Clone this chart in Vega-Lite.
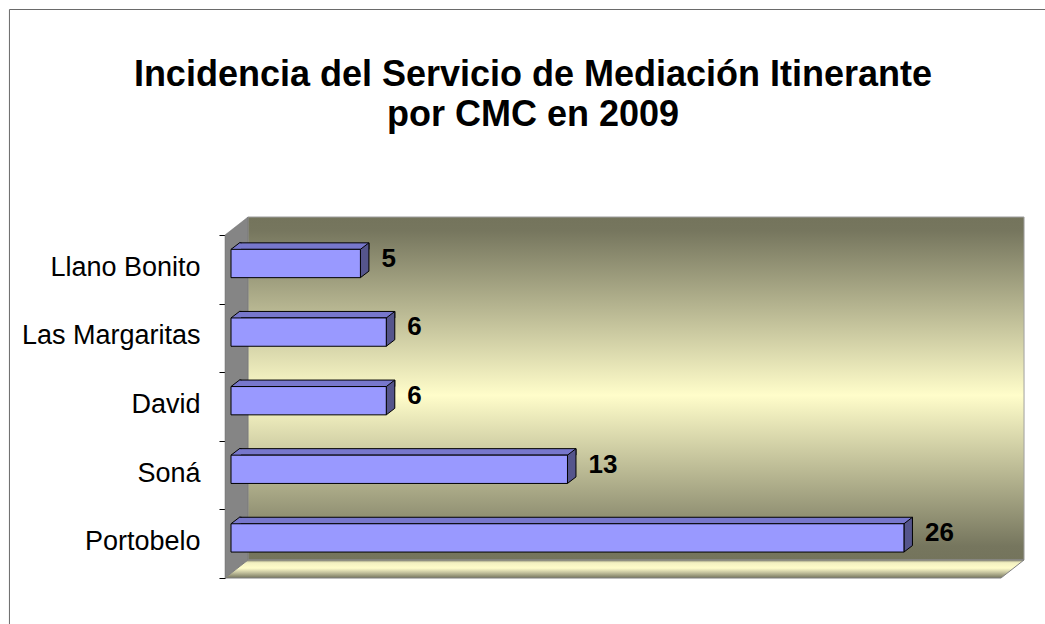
{
  "$schema": "https://vega.github.io/schema/vega-lite/v6.json",
  "width": 770,
  "height": 343,
  "autosize": {"type": "none"},
  "padding": {"left": 231, "top": 235, "right": 44, "bottom": 46},
  "background": "white",
  "config": {"view": {"stroke": null}, "font": "Liberation Sans"},
  "title": {
    "text": ["Incidencia del Servicio de Mediación Itinerante", "por CMC en 2009"],
    "fontSize": 36,
    "fontWeight": "bold",
    "font": "Liberation Sans",
    "color": "black",
    "lineHeight": 40,
    "anchor": "middle",
    "dx": -83,
    "offset": -125
  },
  "data": {"values": [
    {"cmc": "Llano Bonito", "n": 5},
    {"cmc": "Las Margaritas", "n": 6},
    {"cmc": "David", "n": 6},
    {"cmc": "Soná", "n": 13},
    {"cmc": "Portobelo", "n": 26}
  ]},
  "resolve": {"scale": {"y": "independent"}},
  "layer": [
    {
      "data": {"values": [{}]},
      "layer": [
        {
          "mark": {"type": "rect", "stroke": "#6A6A6A", "strokeWidth": 1, "fill": "white", "fillOpacity": 0},
          "encoding": {
            "x": {"datum": -8.56, "type": "quantitative", "scale": {"domain": [0, 29.75], "nice": false, "zero": false}, "axis": null},
            "x2": {"datum": 45},
            "y": {"datum": 1.6574, "type": "quantitative", "scale": {"domain": [0, 1], "nice": false, "zero": false}, "axis": null},
            "y2": {"datum": -2}
          }
        },
        {
          "mark": {"type": "rect", "stroke": "#A0A0A0", "strokeWidth": 1,
            "fill": {"gradient": "linear", "x1": 0, "y1": 0, "x2": 0, "y2": 1,
              "stops": [
                {"offset": 0, "color": "#74745C"},
                {"offset": 0.04, "color": "#76765E"},
                {"offset": 0.52, "color": "#FFFDCA"},
                {"offset": 0.96, "color": "#76765E"},
                {"offset": 1, "color": "#74745C"}
              ]}},
          "encoding": {
            "x": {"datum": 0.657, "type": "quantitative", "scale": {"domain": [0, 29.75], "nice": false, "zero": false}, "axis": null},
            "x2": {"datum": 30.64},
            "y": {"datum": 0.0525, "type": "quantitative", "scale": {"domain": [0, 1], "nice": false, "zero": false}, "axis": null},
            "y2": {"datum": 1.0525}
          }
        },
        {
          "mark": {"type": "point", "filled": true, "opacity": 1, "fill": "#858585", "stroke": "#6E6E6E", "strokeWidth": 0.5,
            "shape": "M0,0L0,-0.9501L0.0637,-1L0.0637,-0.0499Z", "size": 521284},
          "encoding": {
            "x": {"datum": -0.232, "type": "quantitative", "scale": {"domain": [0, 29.75], "nice": false, "zero": false}, "axis": null},
            "y": {"datum": 0, "type": "quantitative", "scale": {"domain": [0, 1], "nice": false, "zero": false}, "axis": null}
          }
        },
        {
          "mark": {"type": "point", "filled": true, "opacity": 1, "stroke": "#808080", "strokeWidth": 1,
            "fill": {"gradient": "linear", "x1": 0, "y1": 0, "x2": 0, "y2": 1,
              "stops": [
                {"offset": 0, "color": "#8C8C76"},
                {"offset": 0.15, "color": "#F2F0C0"},
                {"offset": 0.45, "color": "#FFFDCA"},
                {"offset": 0.7, "color": "#C4C29E"},
                {"offset": 1, "color": "#76765E"}
              ]},
            "shape": "M0,0L0.02879,-0.02253L1,-0.02253L0.97121,0Z", "size": 2553604},
          "encoding": {
            "x": {"datum": -0.232, "type": "quantitative", "scale": {"domain": [0, 29.75], "nice": false, "zero": false}, "axis": null},
            "y": {"datum": 0, "type": "quantitative", "scale": {"domain": [0, 1], "nice": false, "zero": false}, "axis": null}
          }
        }
      ]
    },
    {
      "layer": [
        {
          "mark": {"type": "bar", "height": 6.5, "yOffset": -23.2, "xOffset": 8.5, "x2Offset": 8.5, "fill": "#7777CC", "stroke": "black", "strokeWidth": 1},
          "encoding": {
            "x": {"field": "n", "type": "quantitative", "scale": {"domain": [0, 29.75], "nice": false, "zero": false}, "axis": null},
            "x2": {"datum": 0},
            "y": {"field": "cmc", "type": "nominal", "scale": {"type": "band", "domain": ["Llano Bonito", "Las Margaritas", "David", "Soná", "Portobelo"], "paddingInner": 0, "paddingOuter": 0},
              "axis": {"title": null, "orient": "left", "offset": 6, "domainColor": "black", "domainWidth": 1, "tickBand": "extent", "tickSize": 6, "tickColor": "black", "tickWidth": 1, "labelFont": "Liberation Sans", "labelFontSize": 27, "labelColor": "black", "labelPadding": 19, "labelOffset": -2, "grid": false}}
          }
        },
        {
          "mark": {"type": "point", "filled": true, "opacity": 1, "fill": "#7777CC", "strokeWidth": 0, "yOffset": -5.8,
            "shape": "M0,-0.8203L0.4928,-1.1971L0.5797,-1.1971L0.5797,-0.8203Z", "size": 1190.25},
          "encoding": {
            "x": {"datum": 0, "type": "quantitative", "scale": {"domain": [0, 29.75], "nice": false, "zero": false}, "axis": null},
            "y": {"field": "cmc", "type": "nominal", "scale": {"type": "band", "domain": ["Llano Bonito", "Las Margaritas", "David", "Soná", "Portobelo"], "paddingInner": 0, "paddingOuter": 0}}
          }
        },
        {
          "mark": {"type": "point", "filled": false, "opacity": 1, "color": "black", "strokeWidth": 1, "yOffset": -5.8,
            "shape": "M0,-0.8203L0.4928,-1.1971L0.6,-1.1971", "size": 1190.25},
          "encoding": {
            "x": {"datum": 0, "type": "quantitative", "scale": {"domain": [0, 29.75], "nice": false, "zero": false}, "axis": null},
            "y": {"field": "cmc", "type": "nominal", "scale": {"type": "band", "domain": ["Llano Bonito", "Las Margaritas", "David", "Soná", "Portobelo"], "paddingInner": 0, "paddingOuter": 0}}
          }
        },
        {
          "mark": {"type": "point", "filled": true, "opacity": 1, "fill": "#55558C", "stroke": "black", "strokeWidth": 1, "yOffset": -5.8,
            "shape": "M0,-0.8203L0.4928,-1.1971L0.4928,0.4435L0,0.8203Z", "size": 1190.25},
          "encoding": {
            "x": {"field": "n", "type": "quantitative", "scale": {"domain": [0, 29.75], "nice": false, "zero": false}, "axis": null},
            "y": {"field": "cmc", "type": "nominal", "scale": {"type": "band", "domain": ["Llano Bonito", "Las Margaritas", "David", "Soná", "Portobelo"], "paddingInner": 0, "paddingOuter": 0}}
          }
        },
        {
          "mark": {"type": "bar", "height": 28.3, "yOffset": -5.8, "fill": "#9999FF", "stroke": "black", "strokeWidth": 1},
          "encoding": {
            "x": {"field": "n", "type": "quantitative", "scale": {"domain": [0, 29.75], "nice": false, "zero": false}, "axis": null},
            "x2": {"datum": 0},
            "y": {"field": "cmc", "type": "nominal", "scale": {"type": "band", "domain": ["Llano Bonito", "Las Margaritas", "David", "Soná", "Portobelo"], "paddingInner": 0, "paddingOuter": 0}}
          }
        },
        {
          "mark": {"type": "text", "align": "left", "baseline": "middle", "dx": 21, "dy": -10.5, "font": "Liberation Sans", "fontSize": 26, "fontWeight": "bold", "color": "black"},
          "encoding": {
            "x": {"field": "n", "type": "quantitative", "scale": {"domain": [0, 29.75], "nice": false, "zero": false}, "axis": null},
            "y": {"field": "cmc", "type": "nominal", "scale": {"type": "band", "domain": ["Llano Bonito", "Las Margaritas", "David", "Soná", "Portobelo"], "paddingInner": 0, "paddingOuter": 0}},
            "text": {"field": "n", "type": "quantitative"}
          }
        }
      ]
    }
  ]
}
